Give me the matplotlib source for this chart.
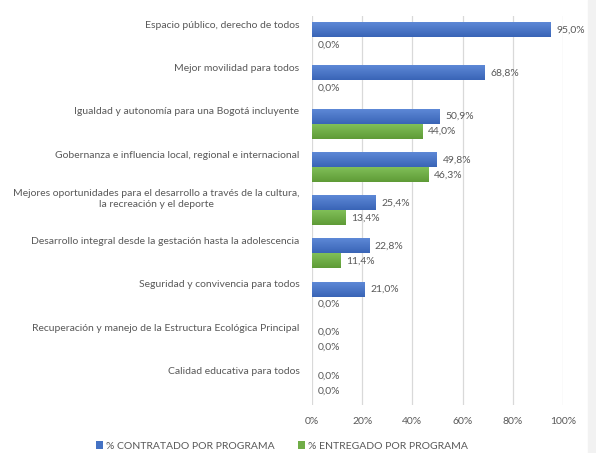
import numpy as np
import matplotlib.pyplot as plt
from matplotlib.patches import Rectangle
from matplotlib.colors import LinearSegmentedColormap
from matplotlib.ticker import FuncFormatter

# datos
programas = [
    'Espacio público, derecho de todos',
    'Mejor movilidad para todos',
    'Igualdad y autonomía para una Bogotá incluyente',
    'Gobernanza e influencia local, regional e internacional',
    'Mejores oportunidades para el desarrollo a través de la cultura,\nla recreación y el deporte',
    'Desarrollo integral desde la gestación hasta la adolescencia',
    'Seguridad y convivencia para todos',
    'Recuperación y manejo de la Estructura Ecológica Principal',
    'Calidad educativa para todos',
]
contratado = [0.950, 0.688, 0.509, 0.498, 0.254, 0.228, 0.210, 0.0, 0.0]
entregado = [0.0, 0.0, 0.440, 0.463, 0.134, 0.114, 0.0, 0.0, 0.0]
xticks = [0, 0.2, 0.4, 0.6, 0.8, 1.0]

azul = '#4472C4'
verde = '#70AD47'
gris = '#595959'

plt.rcParams['font.family'] = ['Lato', 'DejaVu Sans']

fig = plt.figure(figsize=(5.96, 4.53), dpi=100)
fig.patches.append(Rectangle((588 / 596, 0), 1, 1, transform=fig.transFigure,
                             color='#f2f2f2', zorder=0))
ax = fig.add_axes([312 / 596, 1 - 405 / 453, 251 / 596, 389 / 453])

y = np.arange(len(programas))
off = 0.174
h = 0.33
b1 = ax.barh(y - off, contratado, height=h, color=azul, zorder=3,
             label='% CONTRATADO POR PROGRAMA')
b2 = ax.barh(y + off, entregado, height=h, color=verde, zorder=3,
             label='% ENTREGADO POR PROGRAMA')

# degradado tipo Excel sobre cada barra
grad_azul = LinearSegmentedColormap.from_list('ga', ['#5d88d6', '#3a65b7'])
grad_verde = LinearSegmentedColormap.from_list('gv', ['#80bf58', '#5f9b37'])
g = np.linspace(0, 1, 32).reshape(-1, 1)
for bars, cmap in ((b1, grad_azul), (b2, grad_verde)):
    for p in bars:
        if p.get_width() <= 0:
            continue
        x0, y0, w, hh = p.get_x(), p.get_y(), p.get_width(), p.get_height()
        ax.imshow(g, cmap=cmap, extent=(x0, x0 + w, y0 + hh, y0), aspect='auto',
                  origin='upper', zorder=3.5)

for i in range(len(programas)):
    ax.annotate(f'{contratado[i] * 100:.1f}%'.replace('.', ','), (contratado[i], y[i] - off),
                xytext=(4, 0), textcoords='offset points', va='center', ha='left',
                fontsize=7.5, color=gris)
    ax.annotate(f'{entregado[i] * 100:.1f}%'.replace('.', ','), (entregado[i], y[i] + off),
                xytext=(4, 0), textcoords='offset points', va='center', ha='left',
                fontsize=7.5, color=gris)

ax.set_xlim(0, 1.0)
ax.set_ylim(len(programas) - 0.5, -0.5)
ax.set_xticks(xticks)
ax.xaxis.set_major_formatter(FuncFormatter(lambda v, p: f'{v * 100:.0f}%'))
ax.set_yticks(y - off - 0.13)
ax.set_yticklabels(programas, ha='right', multialignment='center')
ax.tick_params(axis='both', length=0, labelsize=7.5, colors=gris)
ax.tick_params(axis='y', pad=9)
ax.tick_params(axis='x', pad=9)
ax.grid(axis='x', color='#d9d9d9', linewidth=0.9, zorder=0)
for s in ax.spines.values():
    s.set_visible(False)

fig.legend(loc='center', bbox_to_anchor=(282 / 596, 1 - 446 / 453), ncol=2,
           frameon=False, fontsize=7.5, handlelength=0.7, handleheight=0.7,
           handletextpad=0.3, columnspacing=2.2, labelcolor=gris)

fig.savefig('out.png', dpi=100)
